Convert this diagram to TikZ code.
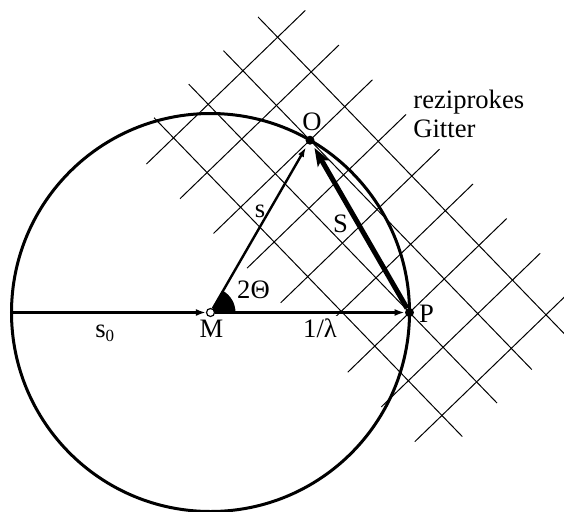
\documentclass[tikz,border=0pt]{standalone}
\usepackage{fontspec}
\setmainfont{Liberation Serif}
\usetikzlibrary{arrows.meta}
\begin{document}
\begin{tikzpicture}[x=0.5pt,y=-0.5pt,
  lbl/.style={font=\fontsize{13.3}{16}\selectfont, inner sep=0pt},
  gridline/.style={line width=0.5pt},
  dot/.style={circle, fill=black, inner sep=0pt, minimum size=4.5pt},
  odot/.style={circle, draw=black, fill=white, line width=0.6pt, inner sep=0pt, minimum size=4pt},
  thickline/.style={line width=1.5pt},
]
\useasboundingbox (0,0) rectangle (564,511);
\coordinate (Mc) at (210.5,312.5);
\coordinate (L) at (11.5,312.5);
% Ewald circle
\draw[line width=1.5pt] (Mc) circle[radius=99.5pt];
% reciprocal lattice
\foreach \c in {-2,...,6} {
  \draw[gridline] ({409.5+34.70*(-1.78)-33.55*(\c)},{312.5-33.55*(-1.78)-34.70*(\c)})
    -- ({409.5+34.70*2.8-33.55*(\c)},{312.5-33.55*2.8-34.70*(\c)});
}
\foreach \a in {-1,...,2} {
  \draw[gridline] ({409.5+34.70*(\a)-33.55*6.58},{312.5-33.55*(\a)-34.70*6.58})
    -- ({409.5+34.70*(\a)-33.55*(-2.61)},{312.5-33.55*(\a)-34.70*(-2.61)});
}
% angle wedge
\fill (Mc) -- ++(25,0) arc[start angle=0,end angle=60,radius=12.5pt] -- cycle;
% points
\node[odot] (M) at (Mc) {};
\node[dot] (O) at (310,140.2) {};
\node[dot] (P) at (409.5,312.5) {};
% vectors
\draw[thickline,-{Latex[length=5pt,width=3.5pt]}] (L) -- (M);
\draw[thickline,-{Latex[length=5pt,width=3.5pt]}] (M) -- (P);
\draw[line width=1.2pt,-{Latex[length=5pt,width=3.2pt]},shorten >=1.5pt] (M) -- (O);
\draw[line width=2.5pt,-{Stealth[length=9pt,width=6.5pt,inset=2pt]},shorten >=2pt] (P) -- (O);
% labels
\node[lbl,anchor=base] (lO) at (312,130) {O};
\node[lbl,anchor=base] (lP) at (426.5,322) {P};
\node[lbl,anchor=base] (lM) at (211.5,337) {M};
\node[lbl,anchor=base,fill=white,inner sep=1pt] (llam) at (320,337) {1/λ};
\node[lbl,anchor=base] (lth) at (253.5,298) {2Θ};
\node[lbl,anchor=base] (ls) at (260,217) {s};
\node[lbl,anchor=base] (lS) at (340.5,232) {S};
\node[lbl,anchor=base west] (ls0) at (95,337.5) {s\raisebox{-2pt}{\fontsize{8.5}{9}\selectfont 0}};
\node[lbl,anchor=base west] (lr) at (413,108) {reziprokes};
\node[lbl,anchor=base west] (lg) at (413,137) {Gitter};
\end{tikzpicture}
\end{document}
